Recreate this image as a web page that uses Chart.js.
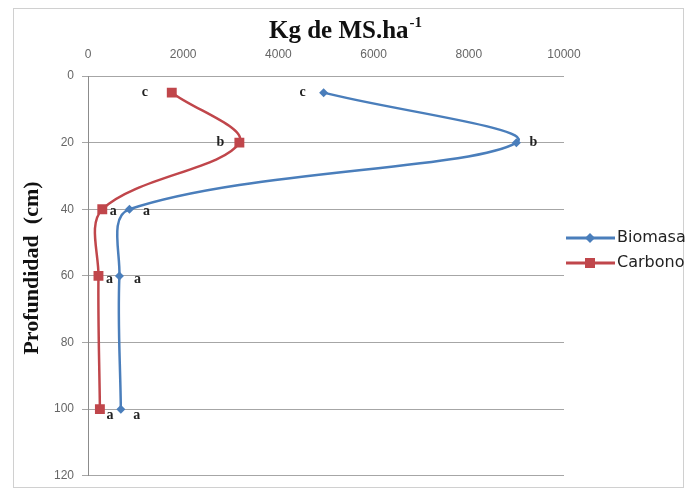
<!DOCTYPE html>
<html>
<head>
<meta charset="utf-8">
<script src="https://cdn.jsdelivr.net/npm/chart.js@4.4.1/dist/chart.umd.min.js"></script>
<style>
  html, body { margin: 0; padding: 0; background: #fff; }
  #wrap { width: 689px; height: 491px; }
</style>
</head>
<body>
<div id="wrap"><canvas id="profileChart" width="689" height="491"></canvas></div>
<script>
// depth (cm) and kg MS/ha
const depths = [5, 20, 40, 60, 100];
const biomasa = [4950, 9000, 870, 660, 690];
const carbono = [1760, 3180, 300, 220, 250];
const biomasaLetters = ['c', 'b', 'a', 'a', 'a'];
const carbonoLetters = ['c', 'b', 'a', 'a', 'a'];
const xTicks = [0, 2000, 4000, 6000, 8000, 10000];
const yTicks = [0, 20, 40, 60, 80, 100, 120];

const blue = '#4a7ebb';
const red = '#c0464b';

function toPoints(values) {
  return depths.map((d, i) => ({ x: values[i], y: d }));
}

// page border + axis titles + legend
const framePlugin = {
  id: 'frame',
  beforeDraw(chart) {
    const ctx = chart.ctx;
    ctx.save();
    ctx.fillStyle = '#fff';
    ctx.fillRect(0, 0, chart.width, chart.height);
    ctx.strokeStyle = '#d0d0d0';
    ctx.lineWidth = 1;
    ctx.strokeRect(13.5, 8.5, 670, 479);
    ctx.restore();
  },
  afterDraw(chart) {
    const ctx = chart.ctx;
    ctx.save();
    ctx.fillStyle = '#111';
    ctx.textBaseline = 'alphabetic';
    // top title with superscript
    ctx.font = 'bold 25px "Liberation Serif", "DejaVu Serif", serif';
    const main = 'Kg de MS.ha';
    ctx.textAlign = 'left';
    const w1 = ctx.measureText(main).width;
    ctx.font = 'bold 15px "Liberation Serif", "DejaVu Serif", serif';
    const w2 = ctx.measureText('-1').width;
    const x0 = 345 - (w1 + w2) / 2;
    ctx.font = 'bold 25px "Liberation Serif", "DejaVu Serif", serif';
    ctx.fillText(main, x0, 38);
    ctx.font = 'bold 15px "Liberation Serif", "DejaVu Serif", serif';
    ctx.fillText('-1', x0 + w1 + 1, 27);

    // rotated y title
    ctx.translate(32, 268);
    ctx.rotate(-Math.PI / 2);
    ctx.textAlign = 'center';
    ctx.textBaseline = 'middle';
    ctx.font = 'bold 22px "Liberation Serif", "DejaVu Serif", serif';
    ctx.fillText('Profundidad  (cm)', 0, 0);
    ctx.restore();

    // legend
    const items = [
      { label: 'Biomasa', color: blue, style: 'diamond', y: 238 },
      { label: 'Carbono', color: red, style: 'square', y: 263 }
    ];
    ctx.save();
    items.forEach(it => {
      ctx.strokeStyle = it.color;
      ctx.lineWidth = 3;
      ctx.beginPath();
      ctx.moveTo(566, it.y);
      ctx.lineTo(615, it.y);
      ctx.stroke();
      ctx.fillStyle = it.color;
      ctx.beginPath();
      if (it.style === 'square') {
        ctx.rect(585, it.y - 5, 10, 10);
      } else {
        ctx.moveTo(590, it.y - 5);
        ctx.lineTo(595, it.y);
        ctx.lineTo(590, it.y + 5);
        ctx.lineTo(585, it.y);
        ctx.closePath();
      }
      ctx.fill();
      ctx.fillStyle = '#222';
      ctx.font = '16px "DejaVu Sans", sans-serif';
      ctx.textAlign = 'left';
      ctx.textBaseline = 'middle';
      ctx.fillText(it.label, 617, it.y);
    });
    ctx.restore();
  }
};

// significance letters next to each point
const letterPlugin = {
  id: 'letters',
  afterDatasetsDraw(chart) {
    const ctx = chart.ctx;
    ctx.save();
    ctx.fillStyle = '#222';
    ctx.font = 'bold 14px "Liberation Serif", "DejaVu Serif", serif';
    ctx.textAlign = 'center';
    ctx.textBaseline = 'middle';
    chart.data.datasets.forEach((ds, di) => {
      const meta = chart.getDatasetMeta(di);
      meta.data.forEach((pt, i) => {
        ctx.fillText(ds.letters[i], pt.x + ds.letterDx[i], pt.y + ds.letterDy[i]);
      });
    });
    ctx.restore();
  }
};

new Chart(document.getElementById('profileChart'), {
  type: 'scatter',
  data: {
    datasets: [
      {
        label: 'Biomasa',
        data: toPoints(biomasa),
        letters: biomasaLetters,
        letterDx: [-21, 17, 17, 18, 16],
        letterDy: [0, 0, 2, 3, 6],
        showLine: true,
        tension: 0.35,
        borderColor: blue,
        backgroundColor: blue,
        borderWidth: 2.5,
        pointStyle: 'rectRot',
        pointRadius: 4.5,
        pointBorderWidth: 0
      },
      {
        label: 'Carbono',
        data: toPoints(carbono),
        letters: carbonoLetters,
        letterDx: [-27, -19, 11, 11, 10],
        letterDy: [0, 0, 2, 3, 6],
        showLine: true,
        tension: 0.35,
        borderColor: red,
        backgroundColor: red,
        borderWidth: 2.5,
        pointStyle: 'rect',
        pointRadius: 7,
        pointBorderWidth: 0
      }
    ]
  },
  options: {
    responsive: false,
    animation: false,
    layout: { padding: { left: 0, right: 125, top: 0, bottom: 15 } },
    plugins: {
      legend: { display: false },
      tooltip: { enabled: false }
    },
    scales: {
      x: {
        type: 'linear',
        position: 'top',
        min: 0,
        max: 10000,
        afterBuildTicks: s => { s.ticks = xTicks.map(v => ({ value: v })); },
        afterFit: s => { s.height = 76; },
        grid: { display: false, drawTicks: false },
        border: { display: false },
        ticks: {
          padding: 14,
          color: '#666',
          font: { family: '"Liberation Sans", Arial, sans-serif', size: 12 },
          callback: v => String(v)
        }
      },
      y: {
        type: 'linear',
        reverse: true,
        min: 0,
        max: 120,
        afterBuildTicks: s => { s.ticks = yTicks.map(v => ({ value: v })); },
        afterFit: s => { s.width = 88; },
        grid: { color: '#a6a6a6', lineWidth: 1, tickLength: 6 },
        border: { display: true, color: '#8c8c8c' },
        ticks: {
          padding: 8,
          color: '#666',
          font: { family: '"Liberation Sans", Arial, sans-serif', size: 12 }
        }
      }
    }
  },
  plugins: [framePlugin, letterPlugin]
});
</script>
</body>
</html>
